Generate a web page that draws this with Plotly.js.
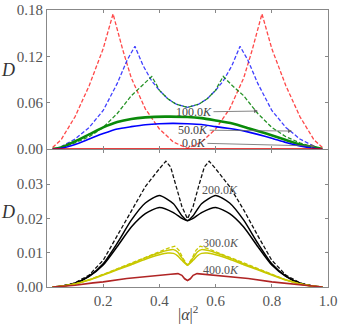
<!DOCTYPE html>
<html>
<head>
<meta charset="utf-8">
<script src="https://cdn.plot.ly/plotly-3.0.1.min.js"></script>
<style>html,body{margin:0;padding:0;background:#fff;}#chart{width:341px;height:324px;}</style>
</head>
<body>
<div id="chart"></div>
<script>
// ---------- top panel (D, 0 K / 50 K / 100 K) ----------
const topRedDashX = [0.02,0.05,0.1,0.15,0.2,0.235,0.27,0.3,0.35,0.4,0.45,0.5,0.55,0.6,0.65,0.7,0.73,0.765,0.8,0.85,0.9,0.95,0.98];
const topRedDashY = [0.002,0.012,0.042,0.082,0.130,0.175,0.128,0.092,0.052,0.026,0.009,0.001,0.009,0.026,0.052,0.092,0.128,0.175,0.130,0.082,0.042,0.012,0.002];

const topBlueDashX = [0.03,0.05,0.1,0.15,0.2,0.25,0.285,0.313,0.342,0.373,0.4,0.43,0.46,0.5,0.54,0.57,0.6,0.627,0.658,0.687,0.715,0.75,0.8,0.85,0.9,0.95,0.97];
const topBlueDashY = [0.0,0.003,0.013,0.028,0.050,0.085,0.115,0.133,0.108,0.088,0.076,0.065,0.058,0.054,0.058,0.065,0.076,0.088,0.108,0.133,0.115,0.085,0.050,0.028,0.013,0.003,0.0];

const topGreenDashX = [0.03,0.05,0.1,0.15,0.2,0.25,0.3,0.34,0.373,0.39,0.4,0.43,0.46,0.5,0.54,0.57,0.6,0.61,0.627,0.66,0.7,0.75,0.8,0.85,0.9,0.95,0.97];
const topGreenDashY = [0.0,0.002,0.008,0.016,0.028,0.046,0.069,0.082,0.094,0.083,0.076,0.065,0.058,0.054,0.058,0.065,0.076,0.083,0.094,0.082,0.069,0.046,0.028,0.016,0.008,0.002,0.0];

const topGreenX = [0.02,0.05,0.1,0.15,0.2,0.25,0.3,0.35,0.42,0.5,0.55,0.6,0.66,0.72,0.78,0.84,0.9,0.95,0.98];
const topGreenY = [0.0,0.002,0.010,0.019,0.028,0.035,0.039,0.041,0.042,0.0415,0.040,0.037,0.033,0.0266,0.020,0.013,0.006,0.0025,0.0];

const topBlueX = [0.02,0.05,0.1,0.15,0.2,0.25,0.3,0.35,0.4,0.45,0.5,0.55,0.6,0.65,0.7,0.75,0.8,0.85,0.9,0.95,0.98];
const topBlueY = [0.0,0.001,0.006,0.013,0.020,0.026,0.029,0.0315,0.0328,0.0332,0.0327,0.0317,0.029,0.0265,0.0235,0.019,0.014,0.0085,0.004,0.001,0.0];

const topRedX = [0.02,0.98];
const topRedY = [0.0,0.0];

// ---------- bottom panel (D, 200 K / 300 K / 400 K) ----------
const botBlackDashX = [0.02,0.05,0.1,0.15,0.2,0.25,0.3,0.35,0.4,0.423,0.44,0.46,0.48,0.5,0.52,0.54,0.56,0.577,0.6,0.65,0.7,0.75,0.8,0.85,0.9,0.95,0.98];
const botBlackDashY = [0.0,0.0002,0.0012,0.0035,0.0078,0.0150,0.0225,0.0293,0.0345,0.0367,0.0350,0.0295,0.0235,0.0199,0.0235,0.0295,0.0350,0.0367,0.0345,0.0293,0.0225,0.0150,0.0078,0.0035,0.0012,0.0002,0.0];

const botBlackHiX = [0.02,0.05,0.1,0.15,0.2,0.25,0.3,0.35,0.4,0.45,0.48,0.5,0.52,0.55,0.6,0.65,0.7,0.75,0.8,0.85,0.9,0.95,0.98];
const botBlackHiY = [0.0,0.0002,0.0011,0.0032,0.0068,0.0128,0.0195,0.0245,0.0267,0.0243,0.0208,0.0194,0.0208,0.0243,0.0267,0.0245,0.0195,0.0128,0.0068,0.0032,0.0011,0.0002,0.0];

const botBlackLoX = [0.02,0.05,0.1,0.15,0.2,0.25,0.3,0.35,0.4,0.45,0.48,0.5,0.52,0.55,0.6,0.65,0.7,0.75,0.8,0.85,0.9,0.95,0.98];
const botBlackLoY = [0.0,0.0002,0.0011,0.0031,0.0064,0.0118,0.0175,0.0214,0.0232,0.0217,0.0200,0.0193,0.0200,0.0217,0.0232,0.0214,0.0175,0.0118,0.0064,0.0031,0.0011,0.0002,0.0];

const botYelDashX = [0.02,0.05,0.1,0.15,0.2,0.25,0.3,0.35,0.4,0.43,0.455,0.47,0.485,0.5,0.515,0.53,0.545,0.57,0.6,0.65,0.7,0.75,0.8,0.85,0.9,0.95,0.98];
const botYelDashY = [0.0,0.0002,0.0009,0.0021,0.0037,0.0053,0.0069,0.0087,0.0103,0.0113,0.0119,0.0107,0.0082,0.0064,0.0082,0.0107,0.0119,0.0113,0.0103,0.0087,0.0069,0.0053,0.0037,0.0021,0.0009,0.0002,0.0];

const botYelHiX = [0.02,0.05,0.1,0.15,0.2,0.25,0.3,0.35,0.4,0.43,0.45,0.465,0.48,0.5,0.52,0.535,0.55,0.57,0.6,0.65,0.7,0.75,0.8,0.85,0.9,0.95,0.98];
const botYelHiY = [0.0,0.0002,0.0009,0.0021,0.0036,0.0052,0.0068,0.0085,0.0100,0.0107,0.0109,0.0102,0.0085,0.0064,0.0085,0.0102,0.0109,0.0107,0.0100,0.0085,0.0068,0.0052,0.0036,0.0021,0.0009,0.0002,0.0];

const botYelLoX = [0.02,0.05,0.1,0.15,0.2,0.25,0.3,0.35,0.4,0.43,0.45,0.465,0.48,0.5,0.52,0.535,0.55,0.57,0.6,0.65,0.7,0.75,0.8,0.85,0.9,0.95,0.98];
const botYelLoY = [0.0,0.0002,0.0009,0.0020,0.0035,0.0050,0.0065,0.0081,0.0094,0.0099,0.0098,0.0091,0.0078,0.0064,0.0078,0.0091,0.0098,0.0099,0.0094,0.0081,0.0065,0.0050,0.0035,0.0020,0.0009,0.0002,0.0];

const botRedX = [0.02,0.1,0.164,0.2,0.284,0.35,0.4,0.44,0.466,0.48,0.49,0.5,0.51,0.52,0.534,0.56,0.6,0.65,0.716,0.8,0.836,0.9,0.98];
const botRedY = [0.0,0.0005,0.0012,0.0015,0.0025,0.0031,0.0035,0.0037,0.0039,0.0034,0.0024,0.0019,0.0024,0.0034,0.0039,0.0037,0.0035,0.0031,0.0025,0.0015,0.0012,0.0005,0.0];

// ---------- ticks and labels ----------
const xTickVals = [0.2,0.4,0.6,0.8,1.0];
const xTickText = ["0.2","0.4","0.6","0.8","1.0"];
const topYTickVals = [0,0.06,0.12,0.18];
const topYTickText = ["0.00","0.06","0.12","0.18"];
const botYTickVals = [0,0.01,0.02,0.03];
const botYTickText = ["0.00","0.01","0.02","0.03"];

const topLabels = ["100.0<i>K</i>","50.0<i>K</i>","0.0<i>K</i>"];
const topLabelTextX = [0.523,0.52,0.523];
const topLabelTextY = [0.048,0.0246,0.0078];
const topLabelHeadX = [0.751,0.872,0.954];
const topLabelHeadY = [0.0492,0.0233,0.0039];

const botLabels = ["200.0<i>K</i>","300.0<i>K</i>","400.0<i>K</i>"];
const botLabelX = [0.616,0.62,0.62];
const botLabelY = [0.0283,0.0128,0.0050];

// ---------- build ----------
const DASH = "4px,2px";
function tr(x, y, color, width, dash, xa, ya, shape) {
  return {x:x, y:y, type:"scatter", mode:"lines", xaxis:xa, yaxis:ya, hoverinfo:"skip",
          line:{color:color, width:width, dash:dash||"solid", shape:shape||"spline", smoothing:0.6}};
}
const data = [
  tr(topRedDashX, topRedDashY, "rgba(255,40,40,0.85)", 1.3, DASH, "x", "y", "linear"),
  tr(topBlueDashX, topBlueDashY, "rgba(30,30,255,0.85)", 1.3, DASH, "x", "y", "linear"),
  tr(topGreenDashX, topGreenDashY, "rgba(0,128,0,0.85)", 1.3, DASH, "x", "y", "linear"),
  tr(topGreenX, topGreenY, "#0a8a0a", 2.6, null, "x", "y"),
  tr(topBlueX, topBlueY, "#0000ff", 1.6, null, "x", "y"),
  tr(topRedX, topRedY, "#dd0000", 1.8, null, "x", "y", "linear"),

  tr(botBlackDashX, botBlackDashY, "#111", 1.3, DASH, "x2", "y2", "linear"),
  tr(botBlackHiX, botBlackHiY, "#000", 1.5, null, "x2", "y2"),
  tr(botBlackLoX, botBlackLoY, "#000", 1.5, null, "x2", "y2"),
  tr(botYelDashX, botYelDashY, "#c8c800", 1.3, DASH, "x2", "y2", "linear"),
  tr(botYelHiX, botYelHiY, "#c8c800", 1.5, null, "x2", "y2"),
  tr(botYelLoX, botYelLoY, "#c8c800", 1.5, null, "x2", "y2"),
  tr(botRedX, botRedY, "#b02525", 1.6, null, "x2", "y2", "linear")
];

const tickFont = {family:"Liberation Serif, serif", size:15, color:"#555"};
const axCommon = {showline:true, linecolor:"#888", linewidth:1, mirror:"ticks", ticks:"inside",
                  ticklen:3, tickcolor:"#888", showgrid:false, zeroline:false, tickfont:tickFont, fixedrange:true};

const annotations = [];
for (let i = 0; i < topLabels.length; i++) {
  annotations.push({xref:"x", yref:"y", axref:"x", ayref:"y",
    x:topLabelHeadX[i], y:topLabelHeadY[i], ax:topLabelTextX[i], ay:topLabelTextY[i],
    text:topLabels[i], showarrow:true, arrowhead:2, arrowsize:1, arrowwidth:0.8, arrowcolor:"#666",
    font:{family:"Liberation Serif, serif", size:12, color:"#444"}, standoff:0, startstandoff:0});
}
for (let i = 0; i < botLabels.length; i++) {
  annotations.push({xref:"x2", yref:"y2", x:botLabelX[i], y:botLabelY[i], text:botLabels[i],
    xanchor:"center", yanchor:"middle",
    showarrow:false, font:{family:"Liberation Serif, serif", size:12, color:"#555"}});
}
annotations.push({xref:"paper", yref:"paper", x:-0.139, y:0.783, text:"<i>D</i>", showarrow:false,
  xanchor:"center", yanchor:"middle",
  font:{family:"Liberation Serif, serif", size:18, color:"#333"}});
annotations.push({xref:"paper", yref:"paper", x:-0.139, y:0.271, text:"<i>D</i>", showarrow:false,
  xanchor:"center", yanchor:"middle",
  font:{family:"Liberation Serif, serif", size:18, color:"#333"}});
annotations.push({xref:"paper", yref:"paper", x:0.502, y:-0.094, text:"|<i>α</i>|<sup>2</sup>", showarrow:false,
  xanchor:"center", yanchor:"middle",
  font:{family:"Liberation Serif, serif", size:16, color:"#444"}});

const layout = {
  width:341, height:324,
  margin:{l:47, r:13, t:10, b:37},
  paper_bgcolor:"#fff", plot_bgcolor:"#fff",
  showlegend:false,
  xaxis:Object.assign({}, axCommon, {domain:[0,1], anchor:"y", range:[0,1], tickvals:xTickVals, showticklabels:false}),
  yaxis:Object.assign({}, axCommon, {domain:[0.498,1], anchor:"x", range:[0,0.18], tickvals:topYTickVals, ticktext:topYTickText}),
  xaxis2:Object.assign({}, axCommon, {domain:[0,1], anchor:"y2", range:[0,1], tickvals:xTickVals, ticktext:xTickText}),
  yaxis2:Object.assign({}, axCommon, {domain:[0,0.495], anchor:"x2", range:[0,0.04], tickvals:botYTickVals, ticktext:botYTickText}),
  annotations:annotations
};

Plotly.newPlot("chart", data, layout, {staticPlot:true, displayModeBar:false});
</script>
</body>
</html>
